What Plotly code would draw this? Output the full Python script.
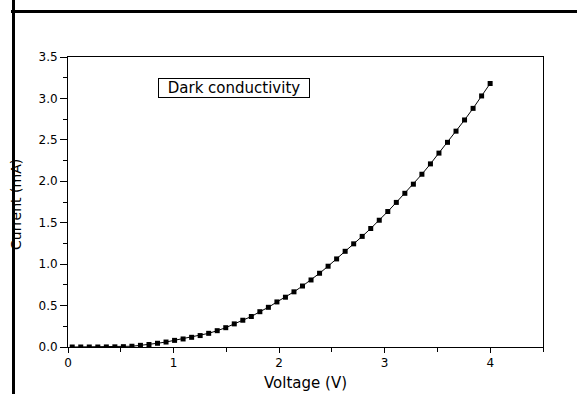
import numpy as np
import plotly.graph_objects as go

# ---- data ----
voltage = [0.04 + 0.0808 * i for i in range(50)]
current = [
    0.0, 0.0, 0.0, 0.0, 0.001, 0.002, 0.004, 0.009, 0.02, 0.03,
    0.045, 0.06, 0.08, 0.097, 0.117, 0.138, 0.165, 0.197, 0.233, 0.279,
    0.323, 0.368, 0.426, 0.479, 0.544, 0.601, 0.666, 0.736, 0.809, 0.89,
    0.975, 1.063, 1.155, 1.245, 1.335, 1.43, 1.53, 1.635, 1.745, 1.855,
    1.965, 2.085, 2.21, 2.34, 2.47, 2.605, 2.74, 2.88, 3.03, 3.18,
]
x_ticks = [0, 1, 2, 3, 4]
x_tick_labels = ["0", "1", "2", "3", "4"]
y_ticks = [0.0, 0.5, 1.0, 1.5, 2.0, 2.5, 3.0, 3.5]
y_tick_labels = ["0.0", "0.5", "1.0", "1.5", "2.0", "2.5", "3.0", "3.5"]
legend_text = "Dark conductivity"
x_title = "Voltage (V)"
y_title = "Current (mA)"

FONT = "DejaVu Sans"

fig = go.Figure()
fig.add_trace(go.Scatter(
    x=voltage, y=current, mode="lines+markers",
    line=dict(color="black", width=1),
    marker=dict(symbol="square", size=5, color="black"),
    showlegend=False, hoverinfo="skip",
))

W, H = 577, 394
L, R, T, B = 68, 34, 57, 47
pw, ph = W - L - R, H - T - B

def px_x(p):
    return (p - L) / pw

def px_y(p):
    return (H - B - p) / ph

fig.update_layout(
    width=W, height=H,
    margin=dict(l=L, r=R, t=T, b=B, pad=0),
    paper_bgcolor="white", plot_bgcolor="white",
    font=dict(family=FONT, size=11, color="black"),
    xaxis=dict(
        range=[0, 4.5], tickvals=x_ticks, ticktext=x_tick_labels,
        showgrid=False, zeroline=False, showline=True, linecolor="black",
        linewidth=1, mirror=True, ticks="outside", ticklen=5, tickwidth=1,
        tickcolor="black", tickfont=dict(family=FONT, size=12),
        minor=dict(dtick=0.5, tick0=0, ticks="outside", ticklen=4, tickcolor="black"),
    ),
    yaxis=dict(
        range=[0, 3.5], tickvals=y_ticks, ticktext=y_tick_labels,
        showgrid=False, zeroline=False, showline=True, linecolor="black",
        linewidth=1, mirror=True, ticks="outside", ticklen=7, tickwidth=1,
        tickcolor="black", tickfont=dict(family=FONT, size=12),
        minor=dict(dtick=0.25, tick0=0, ticks="outside", ticklen=4, tickcolor="black"),
    ),
    shapes=[
        dict(type="line", xref="paper", yref="paper",
             x0=px_x(11), x1=px_x(600), y0=px_y(11.5), y1=px_y(11.5),
             line=dict(color="black", width=3)),
    ],
    annotations=[
        dict(text=legend_text, x=1.57, y=3.12, xref="x", yref="y",
             showarrow=False, font=dict(family=FONT, size=15, color="black"),
             bgcolor="white", bordercolor="black", borderwidth=1, borderpad=1,
             width=148, height=16, xanchor="center", yanchor="middle"),
        dict(text=x_title, x=px_x(305.5), y=px_y(383), xref="paper", yref="paper",
             showarrow=False, font=dict(family=FONT, size=15, color="black"),
             xanchor="center", yanchor="middle"),
        dict(text=y_title, x=px_x(16), y=px_y(205), xref="paper", yref="paper",
             showarrow=False, textangle=-90,
             font=dict(family=FONT, size=14, color="black"),
             xanchor="center", yanchor="middle"),
        # left frame line drawn above the y title (clips it like the reference)
        dict(text=" ", x=px_x(13.5), y=px_y(200), xref="paper", yref="paper",
             showarrow=False, bgcolor="black", width=3, height=420,
             borderpad=0, borderwidth=0, xanchor="center", yanchor="middle"),
    ],
)

fig.write_html("out.html")
